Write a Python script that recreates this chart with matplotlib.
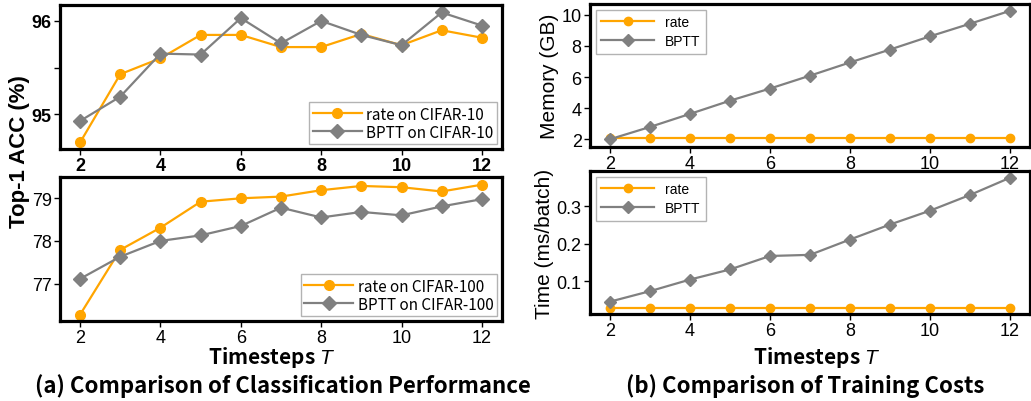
import matplotlib
matplotlib.use('Agg')
import matplotlib.pyplot as plt
from matplotlib.ticker import MultipleLocator

plt.rcParams.update({
    'font.family': ['Liberation Sans', 'DejaVu Sans'],
    'mathtext.fontset': 'custom',
    'mathtext.it': 'Liberation Sans:italic',
    'xtick.labelsize': 13,
    'ytick.labelsize': 13,
})

timesteps = [2, 3, 4, 5, 6, 7, 8, 9, 10, 11, 12]

# (a) classification accuracy
rate_c10 = [94.70, 95.43, 95.60, 95.85, 95.85, 95.72, 95.72, 95.86, 95.74, 95.90, 95.82]
bptt_c10 = [94.93, 95.19, 95.65, 95.64, 96.03, 95.76, 96.00, 95.85, 95.74, 96.09, 95.95]
rate_c100 = [76.27, 77.79, 78.31, 78.92, 79.00, 79.04, 79.19, 79.29, 79.26, 79.16, 79.32]
bptt_c100 = [77.11, 77.63, 78.00, 78.13, 78.35, 78.78, 78.55, 78.68, 78.60, 78.81, 78.98]

# (b) training costs
rate_mem = [2.06] * 11
bptt_mem = [2.00, 2.79, 3.63, 4.48, 5.26, 6.09, 6.94, 7.77, 8.62, 9.43, 10.26]
rate_time = [0.029] * 11
bptt_time = [0.045, 0.073, 0.104, 0.131, 0.167, 0.170, 0.211, 0.251, 0.288, 0.330, 0.376]

ORANGE = '#FFA500'
GRAY = '#808080'

W, H = 1031, 402
fig = plt.figure(figsize=(W / 100, H / 100), dpi=100)


def px_axes(x0, y0, x1, y1):
    return fig.add_axes([x0 / W, 1 - y1 / H, (x1 - x0) / W, (y1 - y0) / H])


def style(ax, lw=2.3):
    for s in ax.spines.values():
        s.set_linewidth(lw)
    ax.set_xlim(1.5, 12.5)
    ax.set_xticks([2, 4, 6, 8, 10, 12])
    ax.tick_params(which='both', length=4, width=1, pad=2)


cjk = ['Noto Sans CJK SC', 'DejaVu Sans']
leg_kw = dict(loc='lower right', prop={'family': cjk, 'size': 11}, handlelength=3.2,
              fancybox=False, edgecolor='#a0a0a0', borderaxespad=0.3,
              labelspacing=0.05, borderpad=0.25, handletextpad=0.3)

a1 = px_axes(60, 6, 502, 150)
a2 = px_axes(60, 178, 502, 322)
b1 = px_axes(590, 5, 1030, 148)
b2 = px_axes(590, 172, 1030, 315)

# top-left: CIFAR-10
a1.plot(timesteps, rate_c10, '-o', color=ORANGE, lw=1.6, ms=7, label='rate on CIFAR-10')
a1.plot(timesteps, bptt_c10, '-D', color=GRAY, lw=1.6, ms=7, label='BPTT on CIFAR-10')
style(a1)
a1.set_ylim(94.63, 96.17)
a1.set_yticks([95, 96])
a1.yaxis.set_minor_locator(MultipleLocator(0.5))
for t in a1.get_xticklabels() + a1.get_yticklabels():
    t.set_fontweight('bold')
a1.legend(**leg_kw)

# bottom-left: CIFAR-100
a2.plot(timesteps, rate_c100, '-o', color=ORANGE, lw=1.6, ms=7, label='rate on CIFAR-100')
a2.plot(timesteps, bptt_c100, '-D', color=GRAY, lw=1.6, ms=7, label='BPTT on CIFAR-100')
style(a2)
a2.set_ylim(76.12, 79.5)
a2.set_yticks([77, 78, 79])
a2.legend(**leg_kw)

# top-right: memory
b1.plot(timesteps, rate_mem, '-o', color=ORANGE, lw=1.6, ms=6, label='rate')
b1.plot(timesteps, bptt_mem, '-D', color=GRAY, lw=1.6, ms=6, label='BPTT')
style(b1)
b1.set_ylim(1.5, 10.7)
b1.set_yticks([2, 4, 6, 8, 10])
b1.set_ylabel('Memory (GB)', fontsize=15, labelpad=2)
b1.legend(loc='upper left', fontsize=10, handlelength=3.8, fancybox=False,
          edgecolor='#a0a0a0', borderaxespad=0.4, labelspacing=0.35)

# bottom-right: time
b2.plot(timesteps, rate_time, '-o', color=ORANGE, lw=1.6, ms=6, label='rate')
b2.plot(timesteps, bptt_time, '-D', color=GRAY, lw=1.6, ms=6, label='BPTT')
style(b2)
b2.set_ylim(0.012, 0.394)
b2.set_yticks([0.1, 0.2, 0.3])
b2.set_ylabel('Time (ms/batch)', fontsize=15, labelpad=2)
b2.legend(loc='upper left', fontsize=10, handlelength=3.8, fancybox=False,
          edgecolor='#a0a0a0', borderaxespad=0.4, labelspacing=0.35)

fig.text(20 / W, 1 - 152 / H, 'Top-1 ACC (%)', rotation=90, ha='center', va='center',
         fontsize=16, fontweight='bold')

fig.text(272 / W, 1 - 358 / H, 'Timesteps $T$', ha='center', va='center',
         fontsize=15, family=cjk, fontweight='bold')
fig.text(817 / W, 1 - 358 / H, 'Timesteps $T$', ha='center', va='center',
         fontsize=15, family=cjk, fontweight='bold')
fig.text(283 / W, 1 - 386 / H, '(a) Comparison of Classification Performance',
         ha='center', va='center', fontsize=16, family=cjk, fontweight='bold')
fig.text(805 / W, 1 - 386 / H, '(b) Comparison of Training Costs',
         ha='center', va='center', fontsize=16, family=cjk, fontweight='bold')

fig.savefig('out.png', dpi=100, facecolor='white')
